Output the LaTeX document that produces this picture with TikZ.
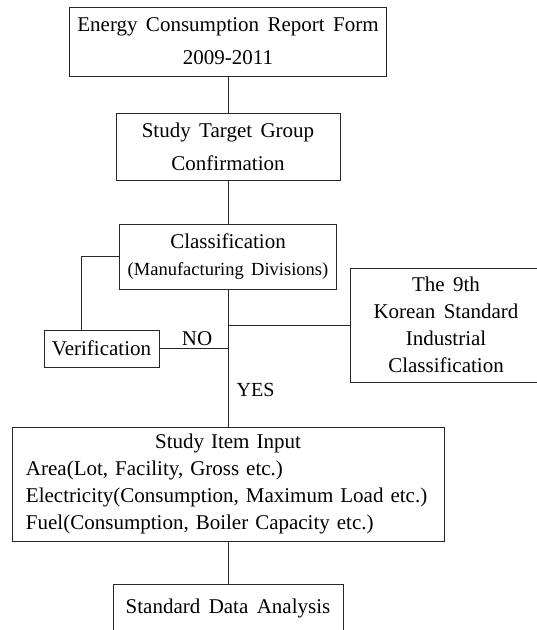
\documentclass[tikz,border=0pt]{standalone}
\usepackage{fontspec}
\setmainfont{Liberation Serif}[WordSpace=1.6]
\usetikzlibrary{positioning}

\begin{document}
\begin{tikzpicture}[x=1pt, y=-1pt,
  box/.style={draw=black!85, line width=0.8pt, align=center, inner sep=0pt,
    font=\fontsize{21}{33}\selectfont},
  link/.style={draw=black!85, line width=0.8pt}]
  \useasboundingbox (0,0) rectangle (537,630);
  \clip (0,0) rectangle (537,630);
  % main column
  \node[box, minimum width=317pt, minimum height=69pt] (report) at (228,41.5)
    {Energy Consumption Report Form\\2009-2011};
  \node[box, minimum width=224pt, minimum height=67pt] (target) at (228,146.5)
    {Study Target Group\\Confirmation};
  \node[box, minimum width=217pt, minimum height=65pt] (class) at (228,256.5)
    {Classification\\[-6pt]{\fontsize{18.5}{22}\selectfont(Manufacturing Divisions)}};
  \node[box, minimum width=432pt, minimum height=114pt, align=left,
    text width=404pt, font=\fontsize{21}{26.7}\selectfont] (study) at (228,484)
    {\makebox[404pt]{Study Item Input}\\
     Area(Lot, Facility, Gross etc.)\\
     Electricity(Consumption, Maximum Load etc.)\\
     Fuel(Consumption, Boiler Capacity etc.)};
  \node[box, minimum width=230pt, minimum height=48pt] (analysis) at (228,608)
    {Standard Data Analysis};
  % side boxes
  \node[box, minimum width=115pt, minimum height=37pt] (verif) at (101.5,348.5)
    {Verification};
  \node[box, minimum width=192pt, minimum height=114pt,
    font=\fontsize{21}{27}\selectfont] (ksic) at (446,325)
    {The 9th\\Korean Standard\\Industrial\\Classification};
  % connectors
  \draw[link] (report) -- (target);
  \draw[link] (target) -- (class);
  \draw[link] (class) -- node[pos=0.73, right=5pt, font=\fontsize{20}{24}\selectfont] {YES} (study);
  \draw[link] (study) -- (analysis);
  \draw[link] (class.south |- ksic.west) -- (ksic.west);
  \draw[link] (verif.east) -- node[pos=0.55, above=-1pt, font=\fontsize{21}{24}\selectfont] {NO}
    (class.south |- verif.east);
  \draw[link] (class.west) -| ([xshift=-20.5pt]verif.north);
\end{tikzpicture}
\end{document}
